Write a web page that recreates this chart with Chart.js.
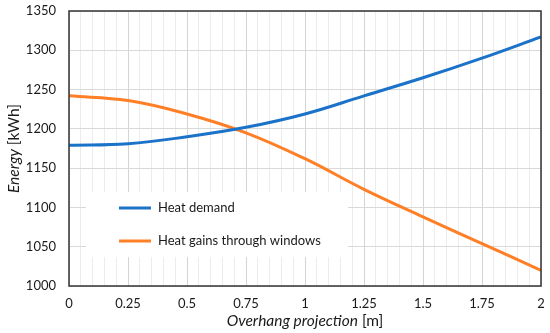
<!DOCTYPE html>
<html>
<head>
<meta charset="utf-8">
<script src="https://cdn.jsdelivr.net/npm/chart.js@4/dist/chart.umd.min.js"></script>
<style>
html,body{margin:0;padding:0;background:#fff;}
#wrap{width:550px;height:333px;position:relative;}
</style>
</head>
<body>
<div id="wrap"><canvas id="c" width="550" height="333"></canvas></div>
<script>
const xValues = [0, 0.25, 0.5, 0.75, 1, 1.25, 1.5, 1.75, 2];
const heatDemand = [1179, 1181, 1190, 1202, 1219, 1242, 1265, 1290, 1317];
const heatGains = [1242, 1236, 1219, 1195, 1162, 1123, 1088, 1054, 1020];
const seriesNames = ['Heat demand', 'Heat gains through windows'];
const xTitle = ['Overhang projection', ' [m]'];
const yTitle = ['Energy', ' [kWh]'];
const yMin = 1000, yMax = 1350, yStep = 50;
const xMin = 0, xMax = 2, xMinorStep = 0.05, xMajorStep = 0.25;

const FONT = 'Lato, "Open Sans", sans-serif';
const BLUE = '#1B72C9';
const ORANGE = '#FF7F27';

function pts(ys){ return xValues.map((x,i)=>({x:x, y:ys[i]})); }

const overlay = {
  id: 'overlay',
  beforeDatasetsDraw(chart){
    const ctx = chart.ctx, a = chart.chartArea;
    const lx = a.left + 17, ly = a.top + 181, lw = 262, lh = 65;
    ctx.save();
    ctx.fillStyle = '#ffffff';
    ctx.fillRect(lx, ly, lw, lh);
    const items = [[seriesNames[0], BLUE, ly + 16], [seriesNames[1], ORANGE, ly + 49]];
    ctx.font = '13px ' + FONT;
    ctx.textBaseline = 'middle';
    for (const [t,c,y] of items){
      ctx.strokeStyle = c; ctx.lineWidth = 3;
      ctx.beginPath(); ctx.moveTo(lx + 33, y); ctx.lineTo(lx + 65, y); ctx.stroke();
      ctx.fillStyle = '#1a1a1a';
      ctx.fillText(t, lx + 72, y);
    }
    ctx.restore();
  },
  afterDraw(chart){
    const ctx = chart.ctx, a = chart.chartArea;
    ctx.save();
    ctx.strokeStyle = '#333333'; ctx.lineWidth = 1.5;
    ctx.strokeRect(a.left, a.top, a.right - a.left, a.bottom - a.top);
    ctx.fillStyle = '#1a1a1a';
    ctx.textBaseline = 'middle';
    const fi = 'italic 15.5px ' + FONT, fn = '15.5px ' + FONT;
    ctx.font = fi; const w1 = ctx.measureText(xTitle[0]).width;
    ctx.font = fn; const w2 = ctx.measureText(xTitle[1]).width;
    let cx = (a.left + a.right)/2 - (w1+w2)/2, cy = 321;
    ctx.textAlign = 'left';
    ctx.font = fi; ctx.fillText(xTitle[0], cx, cy);
    ctx.font = fn; ctx.fillText(xTitle[1], cx + w1, cy);
    ctx.translate(14, (a.top + a.bottom)/2);
    ctx.rotate(-Math.PI/2);
    ctx.font = fi; const v1 = ctx.measureText(yTitle[0]).width;
    ctx.font = fn; const v2 = ctx.measureText(yTitle[1]).width;
    ctx.font = fi; ctx.fillText(yTitle[0], -(v1+v2)/2, 0);
    ctx.font = fn; ctx.fillText(yTitle[1], -(v1+v2)/2 + v1, 0);
    ctx.restore();
  }
};

function isMajor(v){ return Math.abs(Math.round(v*100) % Math.round(xMajorStep*100)) === 0; }

new Chart(document.getElementById('c'), {
  type: 'line',
  data: {
    datasets: [
      {label: seriesNames[0], data: pts(heatDemand), borderColor: BLUE, borderWidth: 3, pointRadius: 0, tension: 0.4, fill: false},
      {label: seriesNames[1], data: pts(heatGains), borderColor: ORANGE, borderWidth: 3, pointRadius: 0, tension: 0.4, fill: false}
    ]
  },
  options: {
    responsive: false,
    animation: false,
    layout: {padding: {top: 11, right: 9, left: 0, bottom: 0}},
    plugins: {legend: {display: false}, tooltip: {enabled: false}},
    scales: {
      x: {
        type: 'linear', min: xMin, max: xMax,
        afterFit(s){ s.height = 47; s.paddingLeft = 0; s.paddingRight = 0; },
        border: {display: false},
        grid: {drawTicks: false, lineWidth: 1, color: (c)=> isMajor(c.tick.value) ? '#d4d4d4' : '#ececec'},
        ticks: {stepSize: xMinorStep, autoSkip: false, maxRotation: 0, padding: 10, color: '#1a1a1a', font: {family: FONT, size: 13},
          callback: (v)=> isMajor(v) ? String(Math.round(v*100)/100) : ''}
      },
      y: {
        min: yMin, max: yMax,
        afterFit(s){ s.width = 69; s.paddingTop = 0; s.paddingBottom = 0; },
        border: {display: false},
        grid: {drawTicks: false, color: '#d9d9d9', lineWidth: 1},
        ticks: {stepSize: yStep, padding: 13, color: '#1a1a1a', font: {family: FONT, size: 13},
          callback: (v)=> String(v)}
      }
    }
  },
  plugins: [overlay]
});
</script>
</body>
</html>
